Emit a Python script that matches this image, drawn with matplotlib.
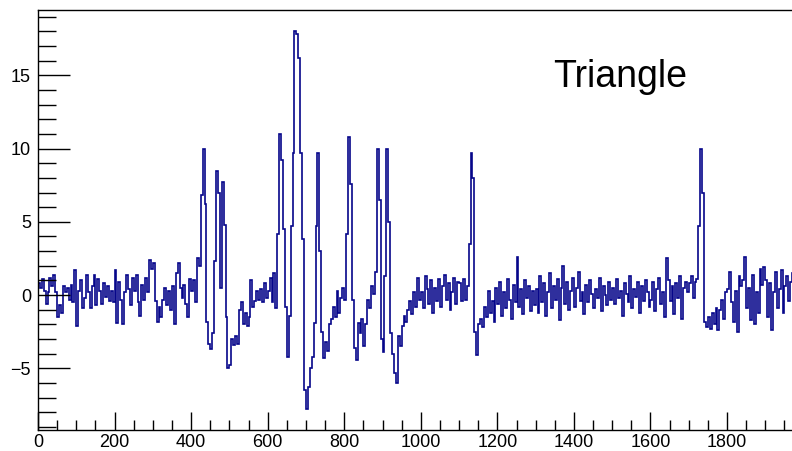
import numpy as np
import matplotlib
matplotlib.use("Agg")
import matplotlib.pyplot as plt
from matplotlib.ticker import MultipleLocator, FixedLocator

plt.rcParams['font.family'] = ['Liberation Sans', 'DejaVu Sans']

# Histogram: 400 bins of width 5 covering 0..2000
bin_width = 5
x_min, x_max = 0, 2000

counts_0000 = [0.8, 0.5, 1.1, 0.3, -0.6, 0.2, 1.2, 0.6, 1.4, 0.2, -1.5, -0.7, -1.2, 0.6, 0.2, 0.5, -0.3, 0.7, -0.5, 1.7]
counts_0100 = [-2.1, 0.3, 1.0, -0.9, -0.2, 1.4, 0.2, -0.9, 0.6, 1.4, -0.7, 1.1, 0.3, -0.6, 0.8, -0.1, 0.6, -0.4, 0.3, -0.5]
counts_0200 = [1.7, -1.9, 0.9, -0.3, -2.0, 0.2, 1.4, 0.4, -0.7, 1.2, 0.3, 1.4, -0.5, -1.4, 0.7, -0.3, 1.2, 0.2, 2.4, 1.8]
counts_0300 = [2.2, -0.4, -1.8, -0.8, -1.5, -0.3, 0.5, -0.7, 0.3, -1.0, 0.6, -2.0, 1.5, 2.2, 0.5, -0.2, 0.7, -0.6, -1.5, 1.1]
counts_0400 = [0.3, 1.0, -0.5, 2.5, 2.0, 6.8, 10.0, 6.2, -1.8, -3.3, -3.7, -2.6, 2.3, 8.5, 7.0, 0.5, 7.7, 4.8, -1.5, -5.0]
counts_0500 = [-4.8, -3.0, -3.4, -2.8, -3.3, -1.0, -0.5, -2.0, -1.2, -2.1, -1.5, 1.0, -0.8, -0.4, 0.3, -0.3, 0.4, -0.5, 0.8, -0.2]
counts_0600 = [0.3, 1.2, -0.5, 1.5, -0.9, 4.2, 11.0, 9.2, 4.5, -0.8, -4.2, -1.4, 4.7, 9.7, 18.0, 17.8, 16.2, 9.7, 3.8, -6.5]
counts_0700 = [-7.8, -6.3, -5.0, -4.2, -1.9, 4.7, 9.7, 3.0, -2.5, -4.3, -3.2, -3.8, -2.0, -1.6, -0.8, -1.5, 0.3, -1.2, -0.2, 0.5]
counts_0800 = [-0.3, 4.2, 10.8, 7.6, -0.3, -3.6, -4.4, -1.9, -2.6, -1.6, -3.5, -2.0, -0.3, -0.9, 0.6, 0.1, 1.6, 10.0, 6.5, -3.0]
counts_0900 = [-3.9, 1.3, 10.0, 5.0, -2.6, -4.0, -5.3, -6.0, -2.8, -3.5, -2.1, -1.4, -1.8, -1.0, -0.4, -1.3, 0.2, -0.8, 1.2, -0.3]
counts_1000 = [0.2, -0.9, 1.3, 0.4, -0.6, 1.0, -1.2, 0.5, -0.4, 1.1, -0.8, 0.6, 1.4, -0.3, 0.8, -1.0, 0.2, 1.2, -0.6, 0.9]
counts_1100 = [0.8, -0.4, 1.1, -0.3, 0.6, 3.5, 9.7, 8.0, -2.5, -4.1, -2.0, -1.6, -2.2, -0.8, -1.5, 0.3, -1.2, -0.4, -1.8, 0.5]
counts_1200 = [-0.6, 0.9, -1.4, 0.2, -0.9, 1.1, -0.3, -1.6, 0.7, -0.5, 2.6, -0.8, 0.4, -1.3, 1.0, -0.2, 0.6, -1.1, 0.3, -0.7]
counts_1300 = [0.4, -1.2, 1.3, -0.5, 0.8, -1.4, 0.2, 1.5, -0.9, 0.6, -0.3, 1.1, -1.7, 0.5, 2.0, -0.6, 0.9, -1.0, 0.3, 1.2]
counts_1400 = [-0.8, 0.5, 1.6, -0.4, 0.2, -1.3, 0.7, -0.5, 1.0, 0.1, -0.9, 0.4, -0.2, 1.2, -1.1, 0.6, 0.0, -0.7, 0.9, -0.3]
counts_1500 = [0.5, -0.6, 1.1, -0.2, 0.3, -1.4, 0.8, 0.1, -0.5, 1.3, -0.9, 0.4, -0.1, 0.9, -1.2, 0.6, -0.4, 1.0, 0.2, -0.8]
counts_1600 = [-0.3, 0.9, -1.1, 0.4, 1.2, -0.6, 0.2, -1.5, 2.5, 1.0, -0.4, 0.6, -1.3, 0.8, -0.2, 1.3, -1.6, 0.5, 0.9, 0.2]
counts_1700 = [0.8, 1.3, -0.2, 0.9, 1.1, 4.7, 10.0, 7.0, -1.8, -2.2, -1.5, -2.3, -1.2, -2.0, -0.9, -2.4, -1.0, -0.3, -1.6, 0.2]
counts_1800 = [0.4, 1.6, -0.5, -1.8, 0.3, -2.5, 1.3, 0.6, 1.0, 2.6, -0.9, 0.5, -1.7, 1.4, -2.0, 0.2, -1.2, 1.8, 0.7, 1.9]
counts_1900 = [1.0, -1.5, 0.8, -2.4, 0.2, 1.6, -0.9, 0.4, 1.7, -1.2, 0.6, 1.3, -0.4, 0.9, 1.5, 0.3, -0.8, 1.1, 0.5, -0.2]

counts = np.concatenate([
    counts_0000, counts_0100, counts_0200, counts_0300, counts_0400,
    counts_0500, counts_0600, counts_0700, counts_0800, counts_0900,
    counts_1000, counts_1100, counts_1200, counts_1300, counts_1400,
    counts_1500, counts_1600, counts_1700, counts_1800, counts_1900,
])
edges = np.arange(x_min, x_max + bin_width, bin_width)

x_tick_values = [0, 200, 400, 600, 800, 1000, 1200, 1400, 1600, 1800]
x_tick_labels = ["0", "200", "400", "600", "800", "1000", "1200", "1400", "1600", "1800"]
label_text = "Triangle"

fig = plt.figure(figsize=(7.92, 4.51), dpi=100)
ax = fig.add_axes([38 / 792, 1 - 430 / 451, (803.6 - 38) / 792, 420 / 451])

ax.stairs(counts, edges, color="#06068a", linewidth=1.2)

ax.set_xlim(x_min, x_max)
ax.set_ylim(-9.2, 19.45)

ax.xaxis.set_major_locator(FixedLocator(x_tick_values))
ax.set_xticklabels(x_tick_labels)
ax.xaxis.set_minor_locator(MultipleLocator(50))
ax.yaxis.set_major_locator(MultipleLocator(5))
ax.yaxis.set_minor_locator(MultipleLocator(1))

ax.tick_params(axis="both", which="both", direction="in", colors="black",
               labelsize=13, width=1.0)
ax.tick_params(axis="y", which="major", length=23, pad=5)
ax.tick_params(axis="y", which="minor", length=13)
ax.tick_params(axis="x", which="major", length=13, pad=3)
ax.tick_params(axis="x", which="minor", length=7)
ax.tick_params(top=False, right=False)

for side in ("left", "bottom", "top", "right"):
    ax.spines[side].set_linewidth(1.0)
    ax.spines[side].set_color("black")

ax.text(1345, 14.9, label_text, fontsize=27, ha="left", va="center",
        color="black")

fig.savefig("out.png", dpi=100)
